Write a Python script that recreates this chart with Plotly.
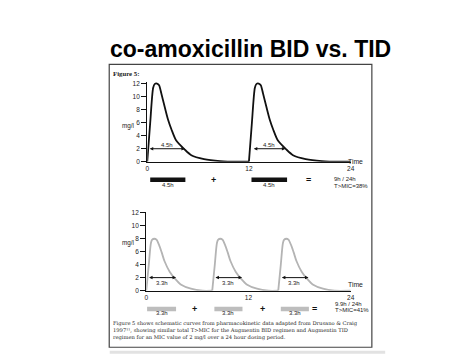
import plotly.graph_objects as go

W, H = 474, 355

# ---------------- data ----------------
title_text = "co-amoxicillin BID vs. TID"
figure_label = "Figure 5:"
caption_lines = [
    "Figure 5 shows schematic curves from pharmacokinetic data adapted from Drusano &amp; Craig",
    "1997¹¹, showing similar total T&gt;MIC for the Augmentin BID regimen and Augmentin TID",
    "regimen for an MIC value of 2 mg/l over a 24 hour dosing period.",
]
y_tick_vals = [0, 2, 4, 6, 8, 10, 12]
x_tick_vals = [0, 12, 24]
mic_level = 2

# BID: single-dose concentration profile (h after dose, mg/l) and dose times
bid_dose_times = [0, 12]
bid_profile_t = [0, 0.35, 0.7, 0.9, 1.15, 1.4, 1.65, 2.05, 2.45, 2.85, 3.4, 4.4, 5.2, 6.7, 8.6, 10.8, 12.0]
bid_profile_c = [0, 6.0, 11.4, 12.0, 12.05, 11.8, 10.6, 8.5, 6.5, 5.0, 3.3, 1.9, 1.0, 0.4, 0.1, 0, 0]

# TID
tid_dose_times = [0, 7.75, 15.5]
tid_profile_t = [0, 0.3, 0.55, 0.7, 0.95, 1.2, 1.5, 1.8, 2.15, 2.75, 3.4, 4.1, 5.25, 6.6, 8.5]
tid_profile_c = [0, 4.0, 7.3, 7.8, 7.95, 7.8, 7.0, 5.9, 4.5, 2.9, 1.8, 0.9, 0.3, 0, 0]

# time above MIC arrows
bid_arrow_start = [0.12, 12.4]
bid_arrow_end = [4.45, 16.3]
bid_arrow_label = ["4.5h", "4.5h"]
tid_arrow_start = [0.15, 7.95, 15.75]
tid_arrow_end = [3.5, 11.25, 19.05]
tid_arrow_label = ["3.3h", "3.3h", "3.3h"]

# time above MIC bars
bid_bar_start = [0.35, 12.3]
bid_bar_end = [4.5, 16.5]
bid_bar_label = ["4.5h", "4.5h"]
tid_bar_start = [0.1, 8.0, 15.8]
tid_bar_end = [3.5, 11.3, 19.1]
tid_bar_label = ["3.3h", "3.3h", "3.3h"]

bid_summary = ["9h / 24h", "T&gt;MIC=38%"]
tid_summary = ["9.9h / 24h", "T&gt;MIC=41%"]


def py(p):
    return 1 - p / H


def px(p):
    return p / W


def dose_segments(doses, pt, pc, end=24):
    segs = []
    for i, d in enumerate(doses):
        stop = doses[i + 1] if i + 1 < len(doses) else end
        xs, ys = [], []
        for t, c in zip(pt, pc):
            if d + t < stop:
                xs.append(d + t)
                ys.append(c)
        xs.append(stop)
        ys.append(0)
        segs.append((xs, ys))
    return segs


fig = go.Figure()
SANS = "Liberation Sans"
SERIF = "Liberation Serif"

# curves
for xs, ys in dose_segments(bid_dose_times, bid_profile_t, bid_profile_c):
    fig.add_trace(go.Scatter(x=xs, y=ys, mode="lines", xaxis="x", yaxis="y",
                             line=dict(color="#111111", width=1.8, shape="spline", smoothing=0.7),
                             hoverinfo="skip", showlegend=False))
for xs, ys in dose_segments(tid_dose_times, tid_profile_t, tid_profile_c):
    fig.add_trace(go.Scatter(x=xs, y=ys, mode="lines", xaxis="x2", yaxis="y2",
                             line=dict(color="#b4b4b4", width=1.8, shape="spline", smoothing=0.7),
                             hoverinfo="skip", showlegend=False))

# bars
for s, e in zip(bid_bar_start, bid_bar_end):
    fig.add_trace(go.Scatter(x=[s, e], y=[0, 0], mode="lines", xaxis="x", yaxis="y3",
                             line=dict(color="#111111", width=4.5), hoverinfo="skip", showlegend=False))
for s, e in zip(tid_bar_start, tid_bar_end):
    fig.add_trace(go.Scatter(x=[s, e], y=[0, 0], mode="lines", xaxis="x2", yaxis="y4",
                             line=dict(color="#bdbdbd", width=4.5), hoverinfo="skip", showlegend=False))

ann = []
small = dict(family=SANS, size=6, color="#222222")

# arrows + labels
for s, e, lab in zip(bid_arrow_start, bid_arrow_end, bid_arrow_label):
    ann.append(dict(x=e, y=mic_level, ax=s, ay=mic_level, xref="x", yref="y", axref="x", ayref="y",
                    text="", showarrow=True, arrowhead=2, arrowside="end+start", arrowsize=0.7,
                    arrowwidth=1, arrowcolor="#111111"))
    ann.append(dict(x=(s + e) / 2, y=mic_level, xref="x", yref="y", text=lab, showarrow=False,
                    yshift=4, font=small))
for s, e, lab in zip(tid_arrow_start, tid_arrow_end, tid_arrow_label):
    ann.append(dict(x=e, y=mic_level, ax=s, ay=mic_level, xref="x2", yref="y2", axref="x2", ayref="y2",
                    text="", showarrow=True, arrowhead=2, arrowside="end+start", arrowsize=0.7,
                    arrowwidth=1, arrowcolor="#111111"))
    ann.append(dict(x=(s + e) / 2, y=mic_level, xref="x2", yref="y2", text=lab, showarrow=False,
                    yshift=-5, font=small))

# bar labels
for s, e, lab in zip(bid_bar_start, bid_bar_end, bid_bar_label):
    ann.append(dict(x=(s + e) / 2, y=-0.55, xref="x", yref="y3", text=lab, showarrow=False, font=small))
for s, e, lab in zip(tid_bar_start, tid_bar_end, tid_bar_label):
    ann.append(dict(x=(s + e) / 2, y=-0.45, xref="x2", yref="y4", text=lab, showarrow=False, font=small))

sym = dict(family=SANS, size=9, color="#111111", weight="bold")
ann.append(dict(x=7.8, y=0, xref="x", yref="y3", text="+", showarrow=False, font=sym))
ann.append(dict(x=19.0, y=0, xref="x", yref="y3", text="=", showarrow=False, font=sym))
ann.append(dict(x=5.7, y=0, xref="x2", yref="y4", text="+", showarrow=False, font=sym))
ann.append(dict(x=13.7, y=0, xref="x2", yref="y4", text="+", showarrow=False, font=sym))
ann.append(dict(x=19.7, y=0, xref="x2", yref="y4", text="=", showarrow=False, font=sym))

# summaries
for i, t in enumerate(bid_summary):
    ann.append(dict(x=px(326), y=py(170 + 7 * i), xref="paper", yref="paper", text=t, showarrow=False,
                    xanchor="left", font=small))
for i, t in enumerate(tid_summary):
    ann.append(dict(x=px(327), y=py(303 + 6.5 * i), xref="paper", yref="paper", text=t, showarrow=False,
                    xanchor="left", font=small))

# axis titles
for yy in (110, 242):
    ann.append(dict(x=px(111), y=py(yy), xref="paper", yref="paper", text="mg/l", showarrow=False,
                    font=dict(family=SANS, size=6.3, color="#222222")))
for yy in (152.5, 284):
    ann.append(dict(x=px(360), y=py(yy), xref="paper", yref="paper", text="Time", showarrow=False,
                    font=dict(family=SANS, size=6.8, color="#222222")))

# title, figure label, caption
ann.append(dict(x=px(244), y=py(22), xref="paper", yref="paper", text=title_text, showarrow=False,
                font=dict(family=SANS, size=23, color="#000000", weight="bold")))
ann.append(dict(x=px(102), y=py(57), xref="paper", yref="paper", text=figure_label, showarrow=False,
                xanchor="left", font=dict(family=SERIF, size=6.8, color="#222222", weight="bold")))
for i, line in enumerate(caption_lines):
    ann.append(dict(x=px(102), y=py(323 + 7.2 * i), xref="paper", yref="paper", text=line, showarrow=False,
                    xanchor="left", font=dict(family="DejaVu Serif", size=5.2, color="#222222")))

shapes = [
    dict(type="rect", xref="paper", yref="paper", x0=px(100.5), x1=px(366.5), y0=py(342), y1=py(53.5),
         line=dict(color="#444444", width=1.2)),
    dict(type="line", xref="paper", yref="paper", x0=px(101), x1=px(380), y0=py(347), y1=py(347),
         line=dict(color="#e2e2e2", width=3)),
]

axis_common = dict(showgrid=False, zeroline=False, showline=True, linecolor="#111111", linewidth=1.2,
                   tickcolor="#111111", tickwidth=1,
                   tickfont=dict(family=SANS, size=6.5, color="#222222"))

# upper y: 0 at py 152.7, 12 at py 73.3; top extended to 12.3 so the peak is not clipped
UP = (152.7 - 73.3) / 12

fig.update_layout(
    width=W, height=H, margin=dict(l=0, r=0, t=0, b=0),
    paper_bgcolor="white", plot_bgcolor="white", showlegend=False,
    xaxis=dict(domain=[px(139), px(345)], range=[0, 24], anchor="y", tickvals=x_tick_vals, ticks="", **axis_common),
    yaxis=dict(domain=[py(152.7), py(152.7 - 12.3 * UP)], range=[0, 12.3], anchor="x", tickvals=y_tick_vals,
               ticks="outside", ticklen=5, **axis_common),
    xaxis2=dict(domain=[px(138), px(345)], range=[0, 24], anchor="y2", tickvals=x_tick_vals, ticks="", **axis_common),
    yaxis2=dict(domain=[py(284.3), py(204.3)], range=[0, 12], anchor="x2", tickvals=y_tick_vals,
                ticks="outside", ticklen=5, **axis_common),
    yaxis3=dict(domain=[py(181), py(161)], range=[-1, 1], anchor="x", visible=False),
    yaxis4=dict(domain=[py(313), py(293)], range=[-1, 1], anchor="x2", visible=False),
    annotations=ann, shapes=shapes,
)

fig.write_html("out.html")
